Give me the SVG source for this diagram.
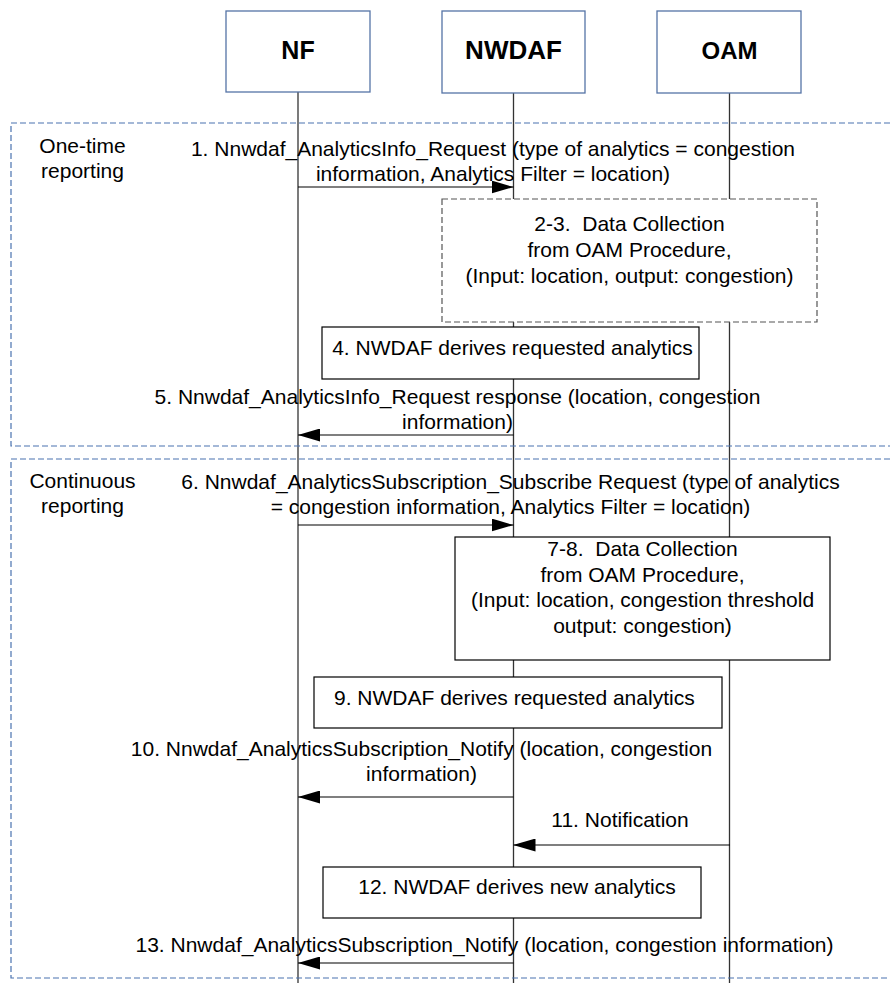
<svg xmlns="http://www.w3.org/2000/svg" width="890" height="983" viewBox="0 0 890 983">
<style>
text{font-family:"Liberation Sans",Arial,sans-serif;font-size:21px;fill:#000}
.hd{font-weight:bold;text-anchor:middle}
.mid{text-anchor:middle}
.pre{white-space:pre}
.head{fill:#fff;stroke:#5573A6;stroke-width:1.3}
.life{stroke:#333;stroke-width:1.3;fill:none}
.grp{fill:none;stroke:#4A72B0;stroke-width:1.2;stroke-dasharray:6 3}
.box{fill:#fff;stroke:#000;stroke-width:1.2}
.dbox{fill:#fff;stroke:#555;stroke-width:1.2;stroke-dasharray:6 3}
.msg{stroke:#000;stroke-width:1.2;fill:none;marker-end:url(#ah)}
</style>
<defs>
<marker id="ah" markerUnits="userSpaceOnUse" markerWidth="22" markerHeight="13" refX="22" refY="6.5" orient="auto">
<path d="M0,0 L22,6.5 L0,13 z" fill="#000"/>
</marker>
</defs>
<rect width="890" height="983" fill="#fff"/>
<g id="lifelines">
<line class="life" x1="298" y1="92" x2="298" y2="983"/>
<line class="life" x1="513.5" y1="93" x2="513.5" y2="983"/>
<line class="life" x1="729.5" y1="93" x2="729.5" y2="983"/>
</g>
<g id="NF"><rect class="head" x="226" y="11" width="144" height="81"/><text class="hd" x="298" y="59" style="font-size:25px">NF</text></g>
<g id="NWDAF"><rect class="head" x="442" y="11" width="143" height="82"/><text class="hd" x="513.5" y="59" style="font-size:26px">NWDAF</text></g>
<g id="OAM"><rect class="head" x="657" y="11" width="144" height="82"/><text class="hd" x="729.5" y="59" style="font-size:24px">OAM</text></g>
<g id="group-onetime">
<path class="grp" d="M890,123 H11 V446 H890"/>
<text class="mid" x="82.5" y="153">One-time</text>
<text class="mid" x="82.5" y="178">reporting</text>
</g>
<g id="group-continuous">
<path class="grp" d="M890,459 H11 V978 H890"/>
<text class="mid" x="82.5" y="488">Continuous</text>
<text class="mid" x="82.5" y="513">reporting</text>
</g>
<g id="step2-3"><rect class="dbox" x="442" y="199" width="375" height="123"/>
<text class="mid pre" x="629.5" y="231">2-3.  Data Collection</text>
<text class="mid" x="629.5" y="257">from OAM Procedure,</text>
<text class="mid" x="629.5" y="283">(Input: location, output: congestion)</text></g>
<g id="step4"><rect class="box" x="322" y="327" width="377" height="52"/>
<text class="mid" x="512.5" y="355">4. NWDAF derives requested analytics</text></g>
<g id="step7-8"><rect class="box" x="455" y="537" width="375" height="123"/>
<text class="mid pre" x="642.5" y="556">7-8.  Data Collection</text>
<text class="mid" x="642.5" y="582">from OAM Procedure,</text>
<text class="mid" x="642.5" y="607">(Input: location, congestion threshold</text>
<text class="mid" x="642.5" y="633">output: congestion)</text></g>
<g id="step9"><rect class="box" x="314" y="677" width="408" height="51"/>
<text x="334" y="705">9. NWDAF derives requested analytics</text></g>
<g id="step12"><rect class="box" x="323" y="867" width="378" height="51"/>
<text class="mid" x="517" y="894">12. NWDAF derives new analytics</text></g>
<g id="connectors">
<line class="msg" x1="298" y1="187" x2="513.5" y2="187"/>
<line class="msg" x1="513.5" y1="435" x2="298" y2="435"/>
<line class="msg" x1="298" y1="525" x2="513.5" y2="525"/>
<line class="msg" x1="513.5" y1="797" x2="298" y2="797"/>
<line class="msg" x1="730" y1="845" x2="513.5" y2="845"/>
<line class="msg" x1="513.5" y1="963" x2="298" y2="963"/>
</g>
<g id="labels">
<text class="mid" x="493" y="156">1. Nnwdaf_AnalyticsInfo_Request (type of analytics = congestion</text>
<text class="mid" x="493" y="181">information, Analytics Filter = location)</text>
<text class="mid" x="457.5" y="404">5. Nnwdaf_AnalyticsInfo_Request response (location, congestion</text>
<text class="mid" x="457.5" y="429">information)</text>
<text class="mid" x="510.5" y="489">6. Nnwdaf_AnalyticsSubscription_Subscribe Request (type of analytics</text>
<text class="mid" x="510.5" y="514">= congestion information, Analytics Filter = location)</text>
<text class="mid" x="421.5" y="756">10. Nnwdaf_AnalyticsSubscription_Notify (location, congestion</text>
<text class="mid" x="421.5" y="781">information)</text>
<text class="mid" x="620" y="827">11. Notification</text>
<text class="mid" x="484.5" y="952">13. Nnwdaf_AnalyticsSubscription_Notify (location, congestion information)</text>
</g>
</svg>
